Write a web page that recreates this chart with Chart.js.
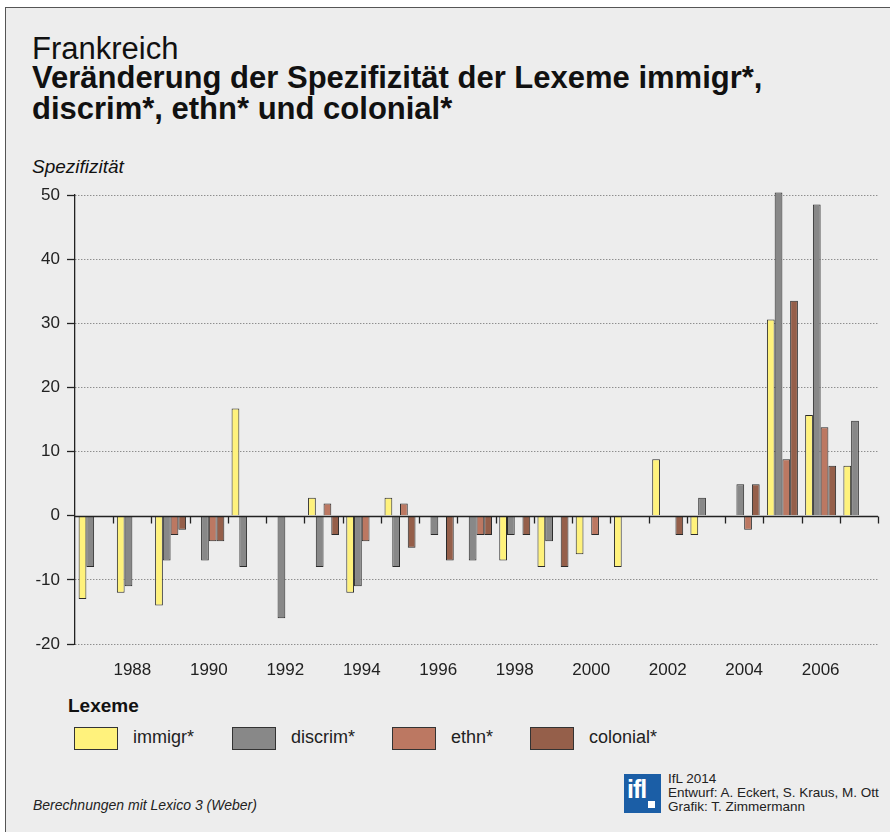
<!DOCTYPE html>
<html>
<head>
<meta charset="utf-8">
<script src="https://cdn.jsdelivr.net/npm/chart.js@4"></script>
<style>
    body { margin: 0; background: #fff; font-family: "Liberation Sans", Arial, sans-serif; color: #111; }
    #frame { position: absolute; left: 5px; top: 7px; width: 900px; height: 840px; background: #ededed; border-left: 1.5px solid #555; border-top: 1.5px solid #555; }
    .t { position: absolute; white-space: nowrap; }
    #chart-wrap { position: absolute; left: 0; top: 170px; width: 890px; height: 510px; }
    .box { position: absolute; width: 42px; height: 21px; border: 1px solid #333; }
    #logo { position: absolute; left: 624px; top: 774px; width: 37px; height: 39px; background: #1b5ea6; color: #fff; font-weight: bold; font-size: 25px; line-height: 30px; text-indent: 3px; letter-spacing: -1px; overflow: hidden; }
    #logo span { position: absolute; left: 24px; top: 27px; width: 7px; height: 7px; background: #fff; }
</style>
</head>
<body>
<div id="frame"></div>
<div class="t" style="left:32px;top:31px;font-size:31px;">Frankreich</div>
<div class="t" style="left:32px;top:62px;font-size:31px;font-weight:bold;line-height:31px;">Veränderung der Spezifizität der Lexeme immigr*,<br>discrim*, ethn* und colonial*</div>
<div class="t" style="left:32px;top:156px;font-size:19px;font-style:italic;">Spezifizität</div>

<div id="chart-wrap"><canvas id="chart" width="890" height="510"></canvas></div>

<div class="t" style="left:68px;top:695px;font-size:19px;font-weight:bold;">Lexeme</div>
<div id="legend"></div>

<div class="t" style="left:33px;top:797px;font-size:14px;font-style:italic;color:#222;">Berechnungen mit Lexico 3 (Weber)</div>
<div id="logo">ifl<span></span></div>
<div class="t" style="left:668px;top:772px;font-size:13.5px;line-height:14px;color:#222;">IfL 2014<br>Entwurf: A. Eckert, S. Kraus, M. Ott<br>Grafik: T. Zimmermann</div>

<script>
const years = ['1987', '1988', '1989', '1990', '1991', '1992', '1993', '1994', '1995', '1996', '1997',
    '1998', '1999', '2000', '2001', '2002', '2003', '2004', '2005', '2006', '2007'];

const immigr   = [-13, -12, -14, 0, 16.7, 0, 2.8, -12, 2.8, 0, 0, -7, -8, -6, -8, 8.8, -3, 0, 30.6, 15.7, 7.8];
const discrim  = [-8, -11, -7, -7, -8, -16, -8, -11, -8, -3, -7, -3, -4, 0, 0, 0, 2.8, 4.9, 50.4, 48.5, 14.8];
const ethn     = [0, 0, -3, -4, 0, 0, 1.9, -4, 1.9, 0, -3, 0, 0, -3, 0, 0, 0, -2.2, 8.8, 13.8, 0];
const colonial = [0, 0, -2.2, -4, 0, 0, -3, 0, -5, -7, -3, -3, -8, 0, 0, -3, 0, 4.9, 33.5, 7.8, 0];

const seriesNames = ['immigr*', 'discrim*', 'ethn*', 'colonial*'];
const seriesColors = ['#fff27c', '#888888', '#bc7862', '#955f4a'];
const yTicks = [-20, -10, 0, 10, 20, 30, 40, 50];

const legendX = [74, 232, 392, 530];

function buildLegend() {
    const el = document.getElementById('legend');
    el.innerHTML = seriesNames.map((name, i) => `
        <div class="box" style="left:${legendX[i]}px;top:727px;background:${seriesColors[i]};"></div>
        <div class="t" style="left:${legendX[i] + 59}px;top:727px;font-size:18px;color:#222;">${name}</div>
    `).join('');
}

// zero line and category boundary ticks sit on y = 0, not on the bottom edge
const zeroAxis = {
    id: 'zeroAxis',
    afterDatasetsDraw(chart) {
        const { ctx, chartArea, scales: { x, y } } = chart;
        const y0 = Math.round(y.getPixelForValue(0)) + 0.5;
        const half = (x.getPixelForValue(1) - x.getPixelForValue(0)) / 2;
        ctx.save();
        ctx.strokeStyle = '#222';
        ctx.lineWidth = 1.3;
        ctx.beginPath();
        ctx.moveTo(chartArea.left, y0);
        ctx.lineTo(chartArea.right, y0);
        for (let i = 0; i < years.length; i++) {
            const bx = Math.round(x.getPixelForValue(i) + half) + 0.5;
            ctx.moveTo(bx, y0);
            ctx.lineTo(bx, y0 + 7);
        }
        ctx.stroke();
        ctx.restore();
    }
};

function renderChart() {
    const ctx = document.getElementById('chart').getContext('2d');
    new Chart(ctx, {
        type: 'bar',
        data: {
            labels: years,
            datasets: [immigr, discrim, ethn, colonial].map((d, i) => ({
                label: seriesNames[i],
                data: d,
                backgroundColor: seriesColors[i],
                borderColor: '#2a2a2a',
                borderWidth: 1,
                categoryPercentage: 0.81,
                barPercentage: 1.0,
                clip: false
            }))
        },
        options: {
            responsive: false,
            animation: false,
            devicePixelRatio: 1,
            layout: { padding: { top: 25, right: 12, left: 0, bottom: 0 } },
            plugins: { legend: { display: false }, tooltip: { enabled: false } },
            scales: {
                x: {
                    grid: { display: false },
                    border: { display: false },
                    ticks: {
                        color: '#222',
                        font: { family: 'Liberation Sans', size: 17 },
                        maxRotation: 0,
                        autoSkip: false,
                        padding: 8,
                        callback: function(val, idx) { return idx % 2 === 1 ? years[idx] : ''; }
                    },
                    afterFit: function(scale) { scale.height = 36; }
                },
                y: {
                    min: -20,
                    max: 50,
                    afterBuildTicks: function(scale) { scale.ticks = yTicks.map(v => ({ value: v })); },
                    grid: {
                        color: ctx => ctx.tick && ctx.tick.value === 0 ? 'rgba(0,0,0,0)' : '#666',
                        lineWidth: 1,
                        tickLength: 8,
                        tickColor: '#222',
                        tickWidth: 1.3
                    },
                    border: { display: true, color: '#222', width: 1.3, dash: [1, 2] },
                    ticks: {
                        color: '#222',
                        font: { family: 'Liberation Sans', size: 17 },
                        padding: 7
                    },
                    afterFit: function(scale) { scale.width = 75; }
                }
            }
        },
        plugins: [zeroAxis]
    });
}

buildLegend();
renderChart();
</script>
</body>
</html>
